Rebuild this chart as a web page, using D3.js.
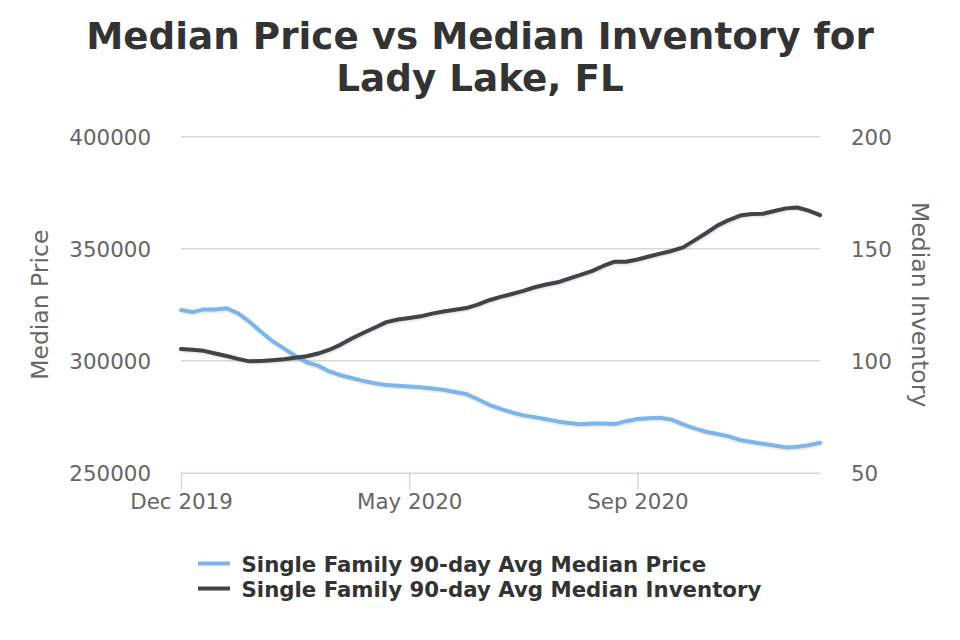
<!DOCTYPE html>
<html>
<head>
<meta charset="utf-8">
<script src="https://cdn.jsdelivr.net/npm/d3@7"></script>
<style>
  html, body { margin: 0; padding: 0; background: #fff; }
  svg { display: block; font-family: "DejaVu Sans", sans-serif; }
</style>
</head>
<body>
<svg id="chart" width="960" height="640"></svg>
<script>
// ---- data (weekly points, Dec 2019 .. early 2021) ----
const weekIndex = d3.range(57);
const tickIndex = [0, 20, 40];
const tickLabels = ["Dec 2019", "May 2020", "Sep 2020"];

const medianPrice = [
  322600, 321700, 322900, 322900, 323400, 321100, 317400, 312900, 308800, 305500,
  302200, 299300, 297800, 295200, 293500, 292200, 290900, 289900, 289100, 288800,
  288500, 288100, 287600, 287000, 286000, 285100, 282800, 280300, 278500, 276900,
  275600, 274800, 273900, 272900, 272200, 271600, 272000, 272000, 271700, 273000,
  274000, 274300, 274500, 273700, 271600, 269800, 268300, 267300, 266200, 264600,
  263700, 262900, 262100, 261300, 261600, 262300, 263400
];
const medianInventory = [
  105.2, 104.9, 104.4, 103.2, 102.1, 100.8, 99.7, 99.9, 100.2, 100.6,
  101.3, 102.0, 103.2, 104.9, 107.2, 110.0, 112.5, 114.8, 117.2, 118.4,
  119.1, 119.8, 121.0, 122.0, 122.7, 123.5, 125.0, 127.0, 128.5, 129.8,
  131.2, 132.8, 134.0, 135.0, 136.6, 138.3, 140.0, 142.3, 144.2, 144.2,
  145.2, 146.5, 147.8, 149.0, 150.6, 153.7, 156.9, 160.3, 162.8, 164.8,
  165.5, 165.6, 166.8, 168.0, 168.4, 167.0, 165.0
];
const priceTicks = [250000, 300000, 350000, 400000];
const inventoryTicks = [50, 100, 150, 200];

const titleLines = ["Median Price vs Median Inventory for", "Lady Lake, FL"];
const seriesNames = ["Single Family 90-day Avg Median Price", "Single Family 90-day Avg Median Inventory"];
const seriesColors = ["#7cb5ec", "#434348"];

// ---- layout ----
const svg = d3.select("#chart");
const plotL = 181, plotR = 820, plotT = 136.7, plotB = 472.7;

const x = d3.scaleLinear().domain([0, weekIndex.length - 1]).range([plotL, plotR]);
const yP = d3.scaleLinear().domain([250000, 400000]).range([plotB, plotT]);
const yI = d3.scaleLinear().domain([50, 200]).range([plotB, plotT]);

// shadow filter
const defs = svg.append("defs");
const f = defs.append("filter").attr("id", "shadow").attr("x", "-5%").attr("y", "-5%").attr("width", "110%").attr("height", "120%");
f.append("feDropShadow").attr("dx", 1).attr("dy", 1).attr("stdDeviation", 1).attr("flood-color", "#000").attr("flood-opacity", 0.15);

// title
svg.append("g").selectAll("text").data(titleLines).join("text")
  .attr("x", 480).attr("y", (d, i) => 48.5 + i * 42)
  .attr("text-anchor", "middle")
  .attr("font-size", 37.3).attr("font-weight", "bold").attr("fill", "#333333")
  .text(d => d);

// grid lines
svg.append("g").selectAll("line").data(priceTicks.filter(t => t !== 250000)).join("line")
  .attr("x1", plotL).attr("x2", plotR)
  .attr("y1", d => yP(d)).attr("y2", d => yP(d))
  .attr("stroke", "#d8d8d8").attr("stroke-width", 1.5);

// left axis labels
const gL = svg.append("g").attr("transform", `translate(${plotL},0)`)
  .call(d3.axisLeft(yP).tickValues(priceTicks).tickFormat(d3.format("d")).tickSize(0).tickPadding(30));
gL.select(".domain").remove();
gL.selectAll("text").attr("font-size", 21.4).attr("fill", "#666666").attr("font-family", "DejaVu Sans").attr("dy", "0.38em");

// right axis labels
const gR = svg.append("g").attr("transform", `translate(${plotR},0)`)
  .call(d3.axisRight(yI).tickValues(inventoryTicks).tickFormat(d3.format("d")).tickSize(0).tickPadding(31));
gR.select(".domain").remove();
gR.selectAll("text").attr("font-size", 21.4).attr("fill", "#666666").attr("font-family", "DejaVu Sans").attr("dy", "0.38em");

// x axis
const gX = svg.append("g").attr("transform", `translate(0,${plotB})`)
  .call(d3.axisBottom(x).tickValues(tickIndex).tickFormat((d, i) => tickLabels[i]).tickSize(17).tickPadding(4).tickSizeOuter(0));
gX.select(".domain").attr("stroke", "#ccd6eb").attr("stroke-width", 1.5);
gX.selectAll(".tick line").attr("stroke", "#ccd6eb").attr("stroke-width", 1.5);
gX.selectAll("text").attr("font-size", 21.4).attr("fill", "#666666").attr("font-family", "DejaVu Sans").attr("dy", "0.71em");

// axis titles
svg.append("text")
  .attr("transform", `translate(48,${(plotT + plotB) / 2}) rotate(-90)`)
  .attr("text-anchor", "middle").attr("font-size", 23.5).attr("fill", "#666666")
  .text("Median Price");
svg.append("text")
  .attr("transform", `translate(912,${(plotT + plotB) / 2}) rotate(90)`)
  .attr("text-anchor", "middle").attr("font-size", 23.5).attr("fill", "#666666")
  .text("Median Inventory");

// lines
const lineP = d3.line().x((d, i) => x(i)).y(d => yP(d)).curve(d3.curveLinear);
const lineI = d3.line().x((d, i) => x(i)).y(d => yI(d)).curve(d3.curveLinear);

svg.append("path").datum(medianPrice).attr("d", lineP)
  .attr("fill", "none").attr("stroke", seriesColors[0]).attr("stroke-width", 4)
  .attr("stroke-linejoin", "round").attr("stroke-linecap", "round").attr("filter", "url(#shadow)");
svg.append("path").datum(medianInventory).attr("d", lineI)
  .attr("fill", "none").attr("stroke", seriesColors[1]).attr("stroke-width", 4)
  .attr("stroke-linejoin", "round").attr("stroke-linecap", "round").attr("filter", "url(#shadow)");

// legend
const lg = svg.append("g").selectAll("g").data(seriesNames).join("g")
  .attr("transform", (d, i) => `translate(0,${563.5 + i * 25})`);
lg.append("line").attr("x1", 198).attr("x2", 230).attr("y1", 0).attr("y2", 0)
  .attr("stroke", (d, i) => seriesColors[i]).attr("stroke-width", 4);
lg.append("text").attr("x", 241.5).attr("y", 8)
  .attr("font-size", 21.3).attr("font-weight", "bold").attr("fill", "#333333")
  .text(d => d);
</script>
</body>
</html>
